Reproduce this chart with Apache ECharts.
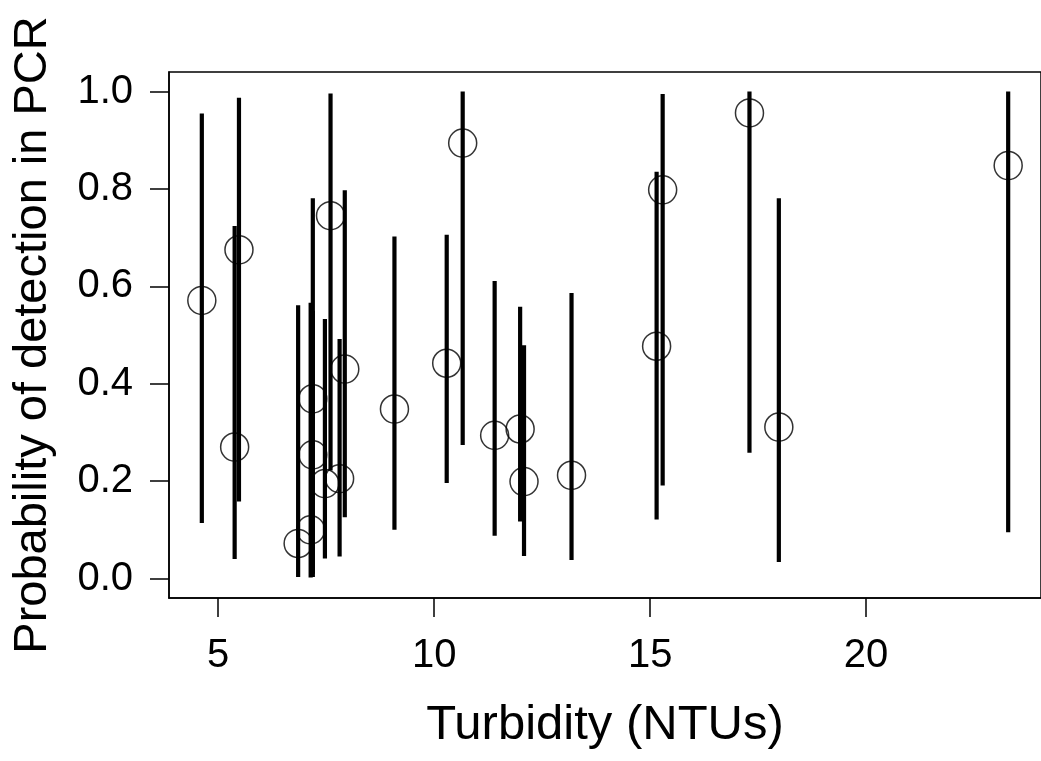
<!DOCTYPE html>
<html>
<head>
<meta charset="utf-8">
<title>Turbidity vs detection probability</title>
<script src="https://cdn.jsdelivr.net/npm/echarts@6/dist/echarts.min.js"></script>
<style>
  html, body { margin: 0; padding: 0; background: #fff; }
  #chart { width: 1041px; height: 761px; }
</style>
</head>
<body>
<div id="chart"></div>
<script>
// turbidity of each sample (NTUs)
const turbidity = [4.62, 5.38, 5.48, 6.85, 7.14, 7.19, 7.19, 7.47, 7.60, 7.81, 7.93,
                   9.08, 10.29, 10.66, 11.40, 11.99, 12.08, 13.18, 15.15, 15.29, 17.30, 17.98, 23.29];
// estimated probability of detection
const probDetect = [0.571, 0.270, 0.675, 0.072, 0.100, 0.254, 0.369, 0.195, 0.745, 0.205, 0.430,
                    0.348, 0.442, 0.894, 0.294, 0.307, 0.199, 0.212, 0.477, 0.798, 0.956, 0.311, 0.848];
// credible interval ends
const lowerCI = [0.114, 0.040, 0.158, 0.003, 0.002, 0.010, 0.003, 0.041, 0.222, 0.045, 0.126,
                 0.100, 0.196, 0.274, 0.088, 0.117, 0.046, 0.038, 0.121, 0.191, 0.258, 0.034, 0.095];
const upperCI = [0.955, 0.724, 0.987, 0.561, 0.566, 0.550, 0.781, 0.533, 0.996, 0.492, 0.797,
                 0.702, 0.706, 1.000, 0.611, 0.558, 0.479, 0.586, 0.835, 0.995, 1.000, 0.781, 1.000];

const xTicks = [5, 10, 15, 20];
const yTicks = [0, 0.2, 0.4, 0.6, 0.8, 1.0];

const chart = echarts.init(document.getElementById('chart'));
const font = "'Liberation Sans', Arial, sans-serif";

let barData = turbidity.map((t, i) => [t, lowerCI[i], upperCI[i]]);
let pointData = turbidity.map((t, i) => [t, probDetect[i]]);

let option = {
    animation: false,
    backgroundColor: '#fff',
    grid: {
        left: 169, top: 72, width: 880, height: 526,
        show: true, borderColor: '#000', borderWidth: 1.5, backgroundColor: 'transparent'
    },
    xAxis: {
        type: 'value',
        min: 3.86, max: 24.05,
        name: 'Turbidity (NTUs)',
        nameLocation: 'middle',
        nameGap: 103,
        nameTextStyle: { fontSize: 49, color: '#000', fontFamily: font },
        axisLine: { show: true, onZero: false, lineStyle: { color: '#000', width: 1.5 } },
        axisTick: { show: true, length: 19, customValues: xTicks, lineStyle: { color: '#000', width: 1.5 } },
        axisLabel: { customValues: xTicks, margin: 38, fontSize: 40, color: '#000', fontFamily: font },
        splitLine: { show: false }
    },
    yAxis: {
        type: 'value',
        min: -0.04, max: 1.04,
        name: 'Probability of detection in PCR',
        nameLocation: 'middle',
        nameGap: 112,
        nameTextStyle: { fontSize: 47, color: '#000', fontFamily: font },
        axisLine: { show: true, onZero: false, lineStyle: { color: '#000', width: 1.5 } },
        axisTick: { show: true, length: 19, customValues: yTicks, lineStyle: { color: '#000', width: 1.5 } },
        axisLabel: {
            customValues: yTicks, margin: 36, fontSize: 40, color: '#000', fontFamily: font,
            formatter: function (v) { return v.toFixed(1); }
        },
        splitLine: { show: false }
    },
    series: [
        {
            // vertical interval bars
            type: 'custom',
            data: barData,
            encode: { x: 0, y: [1, 2] },
            renderItem: function (params, api) {
                let x = api.value(0);
                let p1 = api.coord([x, api.value(1)]);
                let p2 = api.coord([x, api.value(2)]);
                return {
                    type: 'line',
                    shape: { x1: p1[0], y1: p1[1], x2: p2[0], y2: p2[1] },
                    style: { stroke: '#000', lineWidth: 4.2 }
                };
            }
        },
        {
            type: 'scatter',
            data: pointData,
            symbol: 'circle',
            symbolSize: 28,
            itemStyle: { color: 'rgba(0,0,0,0)', borderColor: '#000', borderWidth: 1.5 }
        }
    ]
};
chart.setOption(option);
</script>
</body>
</html>
